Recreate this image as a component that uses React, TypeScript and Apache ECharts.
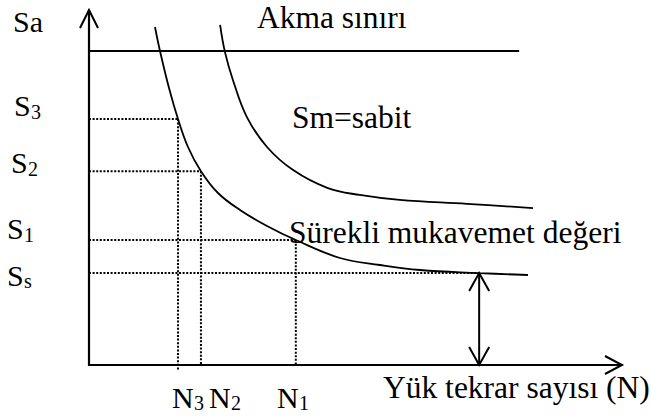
import React, { useEffect, useRef } from "react";
import * as echarts from "echarts";

// Stress (S, vertical) and cycle count (N, horizontal) on a 0..100 schematic scale.
const yieldLimit = 88.45; // Akma sınırı
const yieldLineEnd = 80.7;

// S–N curve at constant mean stress (lower curve, runs into the endurance limit)
const fatigueCurveN = [12.38, 13.32, 15.01, 16.7, 18.57, 21.0, 24.2, 28.33, 33.4, 38.8, 47.09, 54.6, 62.1, 73.2, 82.36];
const fatigueCurveS = [95.21, 88.45, 78.03, 69.3, 61.41, 54.6, 48.45, 43.66, 39.15, 35.2, 30.14, 28.17, 26.76, 25.9, 25.35];

// Upper curve labelled "Sm=sabit"
const upperCurveN = [24.6, 25.5, 27.0, 29.6, 33.4, 38.3, 44.7, 50.8, 58.3, 70.9, 83.3];
const upperCurveS = [95.8, 88.2, 80.3, 69.9, 61.4, 54.9, 49.9, 47.9, 46.5, 45.4, 44.2];

// Read-off levels: S3/N3, S2/N2, S1/N1
const levelN = [16.7, 21.0, 38.8];
const levelS = [69.3, 54.6, 35.2];
const levelDrop = [-1.3, 0, 0]; // how far each vertical guide runs below the N axis

// Endurance limit Ss and where its arrow stands
const enduranceS = 25.9;
const enduranceN = 73.2;

// Axis extents
const axisMaxN = 100;
const axisMaxS = 100;

// Tick texts (base letter + subscript)
const sTickBase = ["S", "S", "S", "S"];
const sTickSub = ["3", "2", "1", "s"];
const nTickBase = ["N", "N", "N"];
const nTickSub = ["3", "2", "1"];

const axisTitleS = "Sa";
const axisTitleN = "Yük tekrar sayısı (N)";
const yieldLabel = "Akma sınırı";
const upperLabel = "Sm=sabit";
const enduranceLabel = "Sürekli mukavemet değeri";

const W = 651;
const H = 416;
const GRID = { left: 89, top: 10, right: 29, bottom: 51 };
const FONT = "Liberation Serif";

const zip = (xs: number[], ys: number[]) => xs.map((x, i) => [x, ys[i]]);

const solid = (data: number[][], width: number) => ({
  type: "line",
  data,
  symbol: "none",
  clip: false,
  silent: true,
  lineStyle: { color: "#000", width, type: "solid" },
});

const dotted = (data: number[][]) => ({
  type: "line",
  data,
  symbol: "none",
  clip: false,
  silent: true,
  lineStyle: { color: "#000", width: 2, type: [2, 1.6] },
});

const txt = (text: string, x: number, y: number, size: number) => ({
  type: "text",
  x,
  y,
  silent: true,
  z: 10,
  style: {
    text,
    fill: "#000",
    fontSize: size,
    fontFamily: FONT,
    align: "left",
    verticalAlign: "middle",
  },
});

// Open "V" arrowhead drawn in pixels around an apex (px, py)
const vHead = (px: number, py: number, dir: "up" | "down" | "right", len: number, half: number) => {
  let pts: number[][];
  if (dir === "up") pts = [[px - half, py + len], [px, py], [px + half, py + len]];
  else if (dir === "down") pts = [[px - half, py - len], [px, py], [px + half, py - len]];
  else pts = [[px - len, py - half], [px, py], [px - len, py + half]];
  return {
    type: "polyline",
    silent: true,
    z: 5,
    shape: { points: pts },
    style: { stroke: "#000", lineWidth: 2, fill: null },
  };
};

export default function App() {
  const ref = useRef<HTMLDivElement>(null);

  useEffect(() => {
    if (!ref.current) return;
    const chart = echarts.init(ref.current, null, { renderer: "svg" });

    const series: any[] = [];

    // guide lines for each read-off level
    levelN.forEach((n, i) => {
      const s = levelS[i];
      series.push(dotted([[0, s], [n, s]]));
      series.push(dotted([[n, s], [n, levelDrop[i]]]));
    });
    series.push(dotted([[0, enduranceS], [enduranceN, enduranceS]]));

    // yield limit
    series.push(solid([[0, yieldLimit], [yieldLineEnd, yieldLimit]], 2));

    // curves
    series.push({ ...solid(zip(fatigueCurveN, fatigueCurveS), 1.8), smooth: 0.4 });
    series.push({ ...solid(zip(upperCurveN, upperCurveS), 1.8), smooth: 0.4 });

    // double arrow shaft from the endurance limit down to the N axis
    series.push(solid([[enduranceN, enduranceS], [enduranceN, 0]], 2));

    const hiddenParts = {
      axisLine: { show: false },
      axisTick: { show: false },
      axisLabel: { show: false },
      splitLine: { show: false },
    };

    chart.setOption({
      animation: false,
      backgroundColor: "#fff",
      grid: { ...GRID, containLabel: false },
      xAxis: { type: "value", min: 0, max: axisMaxN, ...hiddenParts },
      yAxis: { type: "value", min: 0, max: axisMaxS, ...hiddenParts },
      series,
    });

    const toPx = (n: number, s: number) =>
      chart.convertToPixel({ gridIndex: 0 }, [n, s]) as number[];

    const origin = toPx(0, 0);
    const topEnd = toPx(0, axisMaxS);
    const rightEnd = toPx(axisMaxN, 0);
    const ssPt = toPx(enduranceN, enduranceS);
    const footPt = toPx(enduranceN, 0);

    const sTickPos = [
      [14, 105, 31, 112],
      [11, 162, 28, 169],
      [7, 228, 24, 235],
      [7, 275, 24, 281],
    ];
    const nTickPos = [
      [172, 397, 194, 403],
      [209, 397, 231, 403],
      [277, 397, 299, 403],
    ];

    const graphic: any[] = [
      // axes with open arrowheads
      {
        type: "polyline",
        silent: true,
        z: 5,
        shape: { points: [topEnd, origin, rightEnd] },
        style: { stroke: "#000", lineWidth: 2.2, fill: null },
      },
      vHead(topEnd[0], topEnd[1], "up", 18, 9),
      vHead(rightEnd[0], rightEnd[1], "right", 17, 9),
      vHead(ssPt[0], ssPt[1], "up", 18, 10),
      vHead(footPt[0], footPt[1], "down", 18, 10),
      txt(axisTitleS, 13, 21, 30),
      txt(yieldLabel, 257, 17, 31.5),
      txt(upperLabel, 292, 117, 31.5),
      txt(enduranceLabel, 289, 232, 31.5),
      txt(axisTitleN, 383, 387, 31.5),
    ];
    sTickBase.forEach((b, i) => {
      const p = sTickPos[i];
      graphic.push(txt(b, p[0], p[1], 30));
      graphic.push(txt(sTickSub[i], p[2], p[3], 20));
    });
    nTickBase.forEach((b, i) => {
      const p = nTickPos[i];
      graphic.push(txt(b, p[0], p[1], 30));
      graphic.push(txt(nTickSub[i], p[2], p[3], 20));
    });

    chart.setOption({ graphic });

    return () => chart.dispose();
  }, []);

  return (
    <div
      ref={ref}
      style={{ position: "fixed", left: 0, top: 0, width: W, height: H, background: "#fff" }}
    />
  );
}
